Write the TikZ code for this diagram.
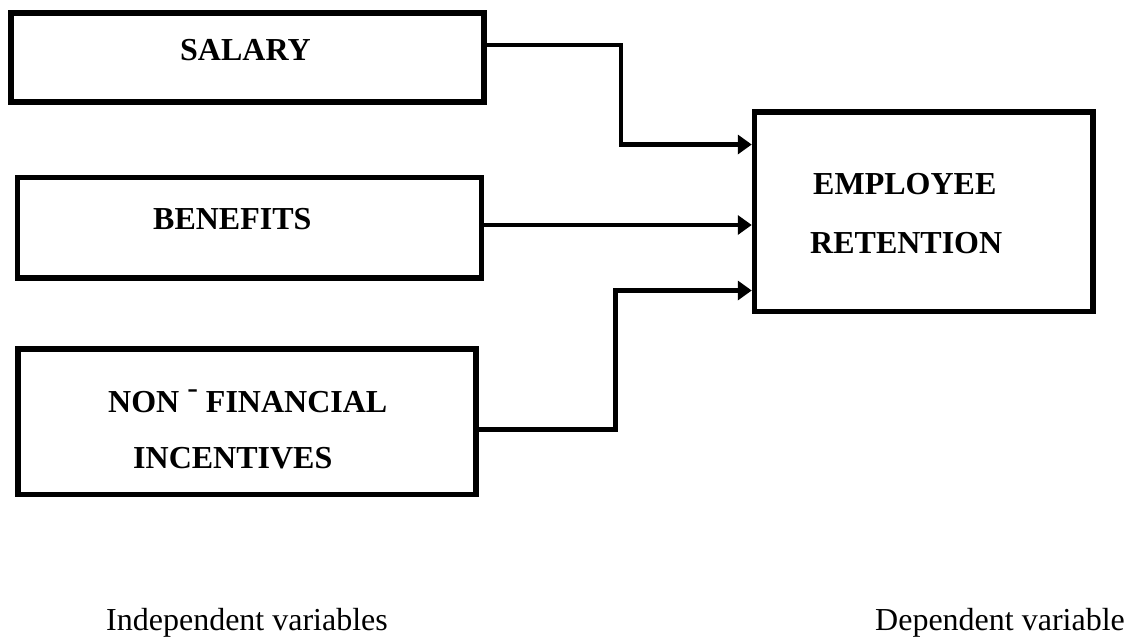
\documentclass[tikz,border=0pt]{standalone}
\usepackage{fontspec}
\setmainfont{Liberation Serif}
\usetikzlibrary{arrows.meta}
\begin{document}
\begin{tikzpicture}[x=1pt,y=-1pt,
  box/.style={draw, line width=5.5pt, inner sep=0pt},
  conn/.style={line width=4.5pt, -{Triangle[length=14pt,width=19pt]}},
  btxt/.style={anchor=base west, inner sep=0pt, font=\bfseries\fontsize{32}{38}\selectfont},
  rtxt/.style={anchor=base west, inner sep=0pt, font=\fontsize{32}{38}\selectfont}]
\useasboundingbox[fill=white] (0,0) rectangle (1129,643);
% boxes
\node[box, minimum width=473pt, minimum height=89pt] (sal) at (247.5,57.25) {};
\node[box, minimum width=464pt, minimum height=100.5pt] (ben) at (249.5,227.75) {};
\node[box, minimum width=458pt, minimum height=145.5pt] (nf) at (247,421.75) {};
\node[box, minimum width=338.5pt, minimum height=199.5pt] (emp) at (923.75,211.75) {};
% texts
\node[btxt] (salt) at (180,60) {SALARY};
\node[btxt] (bent) at (153,229) {BENEFITS};
\node[btxt] (nft1) at (108,412) {NON \raisebox{14pt}{\mdseries -} FINANCIAL};
\node[btxt] (nft2) at (133,468) {INCENTIVES};
\node[btxt] (empt1) at (813,194) {EMPLOYEE};
\node[btxt] (empt2) at (810,253) {RETENTION};
\node[rtxt] (indep) at (106,630) {Independent variables};
\node[rtxt] (dep) at (875,630) {Dependent variable};
% connectors
\draw[conn] (sal.east |- 0,45) -- (621,45) |- (emp.west |- 0,144.5);
\draw[conn, line width=4pt] (ben.east |- 0,225) -- (emp.west |- 0,225);
\draw[conn] (nf.east |- 0,429.5) -- (615.5,429.5) |- (emp.west |- 0,290.5);
\end{tikzpicture}
\end{document}
